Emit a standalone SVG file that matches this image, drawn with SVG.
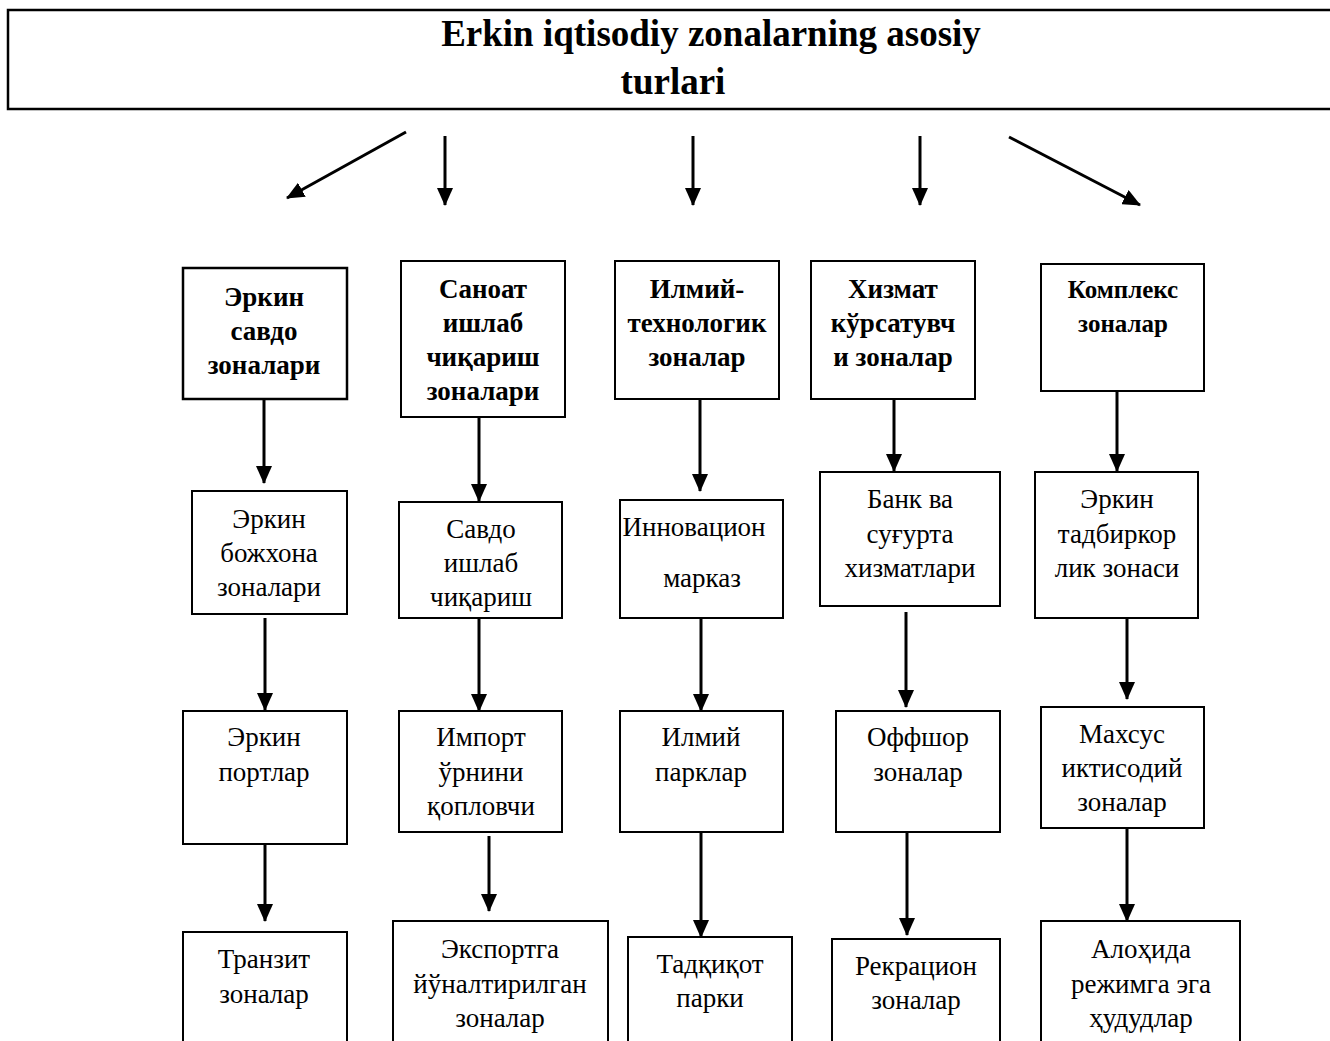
<svg xmlns="http://www.w3.org/2000/svg" width="1330" height="1041" viewBox="0 0 1330 1041">
<style>
.box{fill:#fff;stroke:#000;stroke-width:2}
.tb{fill:#fff;stroke:#000;stroke-width:2.5}
.t{font-family:"Liberation Serif","Times New Roman",serif;font-size:27px;text-anchor:middle;fill:#000}
.b{font-weight:bold}
.title{font-family:"Liberation Serif","Times New Roman",serif;font-size:37px;font-weight:bold;text-anchor:middle;fill:#000}
.c{stroke:#000;stroke-width:3;fill:none;marker-end:url(#ah)}
</style>
<defs>
<marker id="ah" viewBox="0 0 18 16" refX="17" refY="8" markerWidth="18" markerHeight="16" orient="auto" markerUnits="userSpaceOnUse">
<path d="M0,0 L18,8 L0,16 Z" fill="#000"/>
</marker>
</defs>
<rect width="1330" height="1041" fill="#fff"/>
<g id="title">
<rect class="tb" x="8" y="10" width="1330" height="99"/>
<text class="title" x="711" y="46">Erkin iqtisodiy zonalarning asosiy</text>
<text class="title" x="673" y="94">turlari</text>
</g>
<g id="connectors">
<line class="c" x1="406" y1="132" x2="287" y2="198"/>
<line class="c" x1="445" y1="136" x2="445" y2="205"/>
<line class="c" x1="693" y1="136" x2="693" y2="205"/>
<line class="c" x1="920" y1="136" x2="920" y2="205"/>
<line class="c" x1="1009" y1="137" x2="1140" y2="205"/>
<line class="c" x1="264" y1="399" x2="264" y2="483"/>
<line class="c" x1="265" y1="618" x2="265" y2="710"/>
<line class="c" x1="265" y1="844" x2="265" y2="921"/>
<line class="c" x1="479" y1="417" x2="479" y2="501"/>
<line class="c" x1="479" y1="618" x2="479" y2="711"/>
<line class="c" x1="489" y1="836" x2="489" y2="911"/>
<line class="c" x1="700" y1="399" x2="700" y2="491"/>
<line class="c" x1="701" y1="618" x2="701" y2="711"/>
<line class="c" x1="701" y1="832" x2="701" y2="937"/>
<line class="c" x1="894" y1="399" x2="894" y2="471"/>
<line class="c" x1="906" y1="612" x2="906" y2="707"/>
<line class="c" x1="907" y1="832" x2="907" y2="935"/>
<line class="c" x1="1117" y1="391" x2="1117" y2="471"/>
<line class="c" x1="1127" y1="614" x2="1127" y2="699"/>
<line class="c" x1="1127" y1="828" x2="1127" y2="921"/>
</g>
<g id="n-a1"><rect class="tb" x="183" y="268" width="164" height="131"/>
<text class="t b"><tspan x="264" y="306">Эркин</tspan><tspan x="264" y="340">савдо</tspan><tspan x="264" y="374">зоналари</tspan></text></g>
<g id="n-b1"><rect class="box" x="401" y="261" width="164" height="156"/>
<text class="t b"><tspan x="483" y="298">Саноат</tspan><tspan x="483" y="332">ишлаб</tspan><tspan x="483" y="366">чиқариш</tspan><tspan x="483" y="400">зоналари</tspan></text></g>
<g id="n-c1"><rect class="box" x="615" y="261" width="164" height="138"/>
<text class="t b"><tspan x="697" y="298">Илмий-</tspan><tspan x="697" y="332">технологик</tspan><tspan x="697" y="366">зоналар</tspan></text></g>
<g id="n-d1"><rect class="box" x="811" y="261" width="164" height="138"/>
<text class="t b"><tspan x="893" y="298">Хизмат</tspan><tspan x="893" y="332">кўрсатувч</tspan><tspan x="893" y="366">и зоналар</tspan></text></g>
<g id="n-e1"><rect class="box" x="1041" y="264" width="163" height="127"/>
<text class="t b" style="font-size:25px"><tspan x="1123" y="298">Комплекс</tspan><tspan x="1123" y="332">зоналар</tspan></text></g>

<g id="n-a2"><rect class="box" x="192" y="491" width="155" height="123"/>
<text class="t"><tspan x="269" y="528">Эркин</tspan><tspan x="269" y="562">божхона</tspan><tspan x="269" y="596">зоналари</tspan></text></g>
<g id="n-b2"><rect class="box" x="399" y="502" width="163" height="116"/>
<text class="t"><tspan x="481" y="538">Савдо</tspan><tspan x="481" y="572">ишлаб</tspan><tspan x="481" y="606">чиқариш</tspan></text></g>
<g id="n-c2"><rect class="box" x="620" y="500" width="163" height="118"/>
<text class="t"><tspan x="694" y="536">Инновацион</tspan><tspan x="702" y="587">марказ</tspan></text></g>
<g id="n-d2"><rect class="box" x="820" y="472" width="180" height="134"/>
<text class="t"><tspan x="910" y="508">Банк ва</tspan><tspan x="910" y="543">суғурта</tspan><tspan x="910" y="577">хизматлари</tspan></text></g>
<g id="n-e2"><rect class="box" x="1035" y="472" width="163" height="146"/>
<text class="t"><tspan x="1117" y="508">Эркин</tspan><tspan x="1117" y="543">тадбиркор</tspan><tspan x="1117" y="577">лик зонаси</tspan></text></g>

<g id="n-a3"><rect class="box" x="183" y="711" width="164" height="133"/>
<text class="t"><tspan x="264" y="746">Эркин</tspan><tspan x="264" y="781">портлар</tspan></text></g>
<g id="n-b3"><rect class="box" x="399" y="711" width="163" height="121"/>
<text class="t"><tspan x="481" y="746">Импорт</tspan><tspan x="481" y="781">ўрнини</tspan><tspan x="481" y="815">қопловчи</tspan></text></g>
<g id="n-c3"><rect class="box" x="620" y="711" width="163" height="121"/>
<text class="t"><tspan x="701" y="746">Илмий</tspan><tspan x="701" y="781">парклар</tspan></text></g>
<g id="n-d3"><rect class="box" x="836" y="711" width="164" height="121"/>
<text class="t"><tspan x="918" y="746">Оффшор</tspan><tspan x="918" y="781">зоналар</tspan></text></g>
<g id="n-e3"><rect class="box" x="1041" y="707" width="163" height="121"/>
<text class="t"><tspan x="1122" y="743">Махсус</tspan><tspan x="1122" y="777">иктисодий</tspan><tspan x="1122" y="811">зоналар</tspan></text></g>

<g id="n-a4"><rect class="box" x="183" y="932" width="164" height="130"/>
<text class="t"><tspan x="264" y="968">Транзит</tspan><tspan x="264" y="1003">зоналар</tspan></text></g>
<g id="n-b4"><rect class="box" x="393" y="921" width="215" height="140"/>
<text class="t"><tspan x="500" y="958">Экспортга</tspan><tspan x="500" y="993">йўналтирилган</tspan><tspan x="500" y="1027">зоналар</tspan></text></g>
<g id="n-c4"><rect class="box" x="628" y="937" width="164" height="130"/>
<text class="t"><tspan x="710" y="973">Тадқиқот</tspan><tspan x="710" y="1007">парки</tspan></text></g>
<g id="n-d4"><rect class="box" x="832" y="939" width="168" height="130"/>
<text class="t"><tspan x="916" y="975">Рекрацион</tspan><tspan x="916" y="1009">зоналар</tspan></text></g>
<g id="n-e4"><rect class="box" x="1041" y="921" width="199" height="140"/>
<text class="t"><tspan x="1141" y="958">Алоҳида</tspan><tspan x="1141" y="993">режимга эга</tspan><tspan x="1141" y="1027">ҳудудлар</tspan></text></g>
</svg>
